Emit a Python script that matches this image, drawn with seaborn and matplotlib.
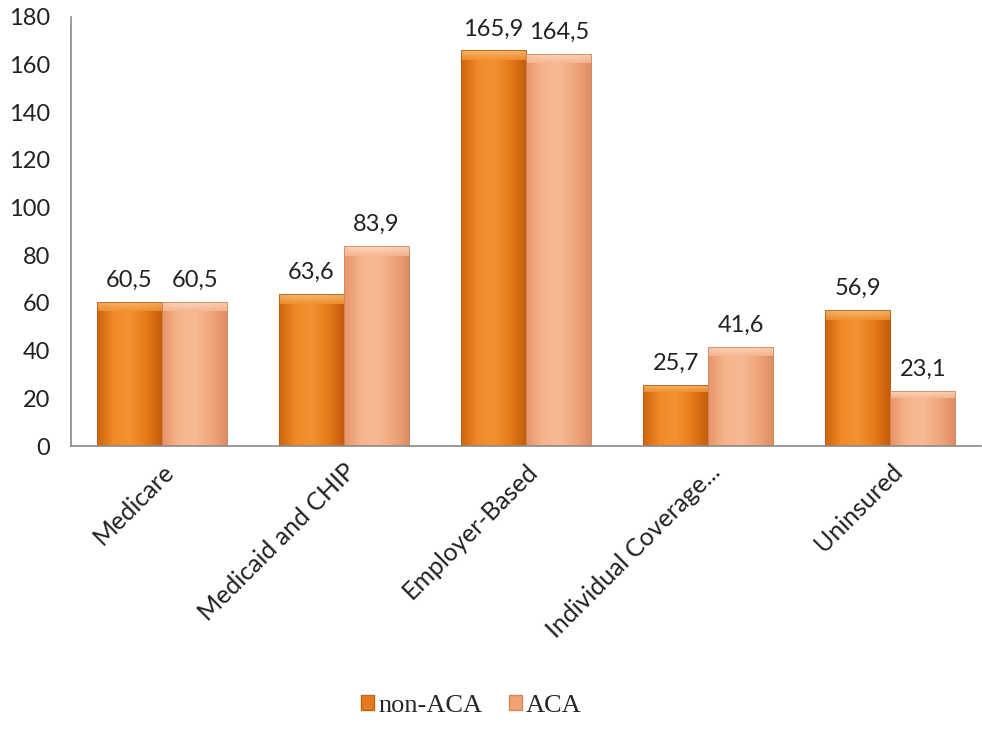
import numpy as np
import pandas as pd
import matplotlib
matplotlib.use("Agg")
import matplotlib.pyplot as plt
import seaborn as sns
from matplotlib.colors import to_rgb
from matplotlib.patches import Patch

categories = ["Medicare", "Medicaid and CHIP", "Employer-Based", "Individual Coverage...", "Uninsured"]
non_aca = [60.5, 63.6, 165.9, 25.7, 56.9]
aca = [60.5, 83.9, 164.5, 41.6, 23.1]
series_names = ["non-ACA", "ACA"]
yticks = [0, 20, 40, 60, 80, 100, 120, 140, 160, 180]

df = pd.DataFrame({
    "category": categories * 2,
    "value": non_aca + aca,
    "series": [series_names[0]] * len(categories) + [series_names[1]] * len(categories),
})

sns.set_theme(style="white")
plt.rcParams["font.family"] = ["Lato", "DejaVu Sans"]

fig = plt.figure(figsize=(9.82, 7.33), dpi=100)
ax = fig.add_axes([0.0723, 0.3915, 0.927, 0.5855])

palette = {"non-ACA": "#EC7F1E", "ACA": "#F4A77A"}
sns.barplot(data=df, x="category", y="value", hue="series", palette=palette,
            width=0.715, ax=ax, legend=False, saturation=1,
            edgecolor="none")

# gradient shading on bars
shades = {
    "non-ACA": ["#CF640C", "#F08A2A", "#F39233", "#E57A1A", "#C25C0A"],
    "ACA": ["#E8956A", "#F6B48C", "#F7B995", "#F0A67C", "#DE8C62"],
}
tops = {"non-ACA": "#FBC07A", "ACA": "#FCDCC2"}
for cont, name in zip(ax.containers, series_names):
    cols = np.array([to_rgb(c) for c in shades[name]])
    xs = np.linspace(0, 1, len(cols))
    t = np.linspace(0, 1, 64)
    grad = np.stack([np.interp(t, xs, cols[:, k]) for k in range(3)], axis=-1)[None, :, :]
    for p in cont.patches:
        x0, w = p.get_x(), p.get_width()
        h = p.get_height()
        im = ax.imshow(grad, extent=[x0, x0 + w, 0, h], aspect="auto", zorder=p.get_zorder() + 0.1,
                       interpolation="bicubic")
        im.set_clip_path(p)
        # top bevel (light band fading downward)
        bev = min(4.0, h * 0.12)
        tc = np.array(to_rgb(tops[name]))
        mc = np.array(to_rgb(shades[name][2]))
        vg = np.linspace(1, 0, 32)
        top_img = tc[None, :] * vg[:, None] + mc[None, :] * (1 - vg[:, None])
        top_img = np.repeat(top_img[:, None, :], 8, axis=1)
        im2 = ax.imshow(top_img, extent=[x0, x0 + w, h - bev, h], aspect="auto",
                        zorder=p.get_zorder() + 0.2, interpolation="bicubic", alpha=0.85)
        im2.set_clip_path(p)
        p.set_edgecolor("#B0601A" if name == "non-ACA" else "#D08A64")
        p.set_linewidth(0.6)
        p.set_zorder(p.get_zorder() + 0.3)
        p.set_facecolor("none")
    labels = [f"{v:.1f}".replace(".", ",") for v in cont.datavalues]
    ax.bar_label(cont, labels=labels, padding=8, fontsize=17, color="#222222")

ax.set_xlim(-0.5, len(categories) - 0.5)
ax.set_ylim(0, 180)
ax.set_yticks(yticks)
ax.set_yticklabels([str(v) for v in yticks], fontsize=17, color="#222222")
ax.set_xticks(range(len(categories)))
ax.set_xticklabels(categories, rotation=45, ha="right", rotation_mode="anchor",
                   fontsize=18, color="#222222")
ax.tick_params(axis="y", length=0, pad=15)
ax.tick_params(axis="x", length=0, pad=10)
ax.set_xlabel("")
ax.set_ylabel("")
for s in ["top", "right"]:
    ax.spines[s].set_visible(False)
for s in ["left", "bottom"]:
    ax.spines[s].set_color("#8A8A8A")
    ax.spines[s].set_linewidth(1.2)

handles = [Patch(facecolor="#E87A1E", edgecolor="#C06515"), Patch(facecolor="#F2A274", edgecolor="#D08A64")]
fig.legend(handles, series_names, loc="lower center", bbox_to_anchor=(0.48, -0.01), ncol=2,
           frameon=False, prop={"family": "Liberation Serif", "size": 19},
           handlelength=0.5, handleheight=0.5, handletextpad=0.15, columnspacing=1.0)

fig.savefig("out.png", dpi=100)
